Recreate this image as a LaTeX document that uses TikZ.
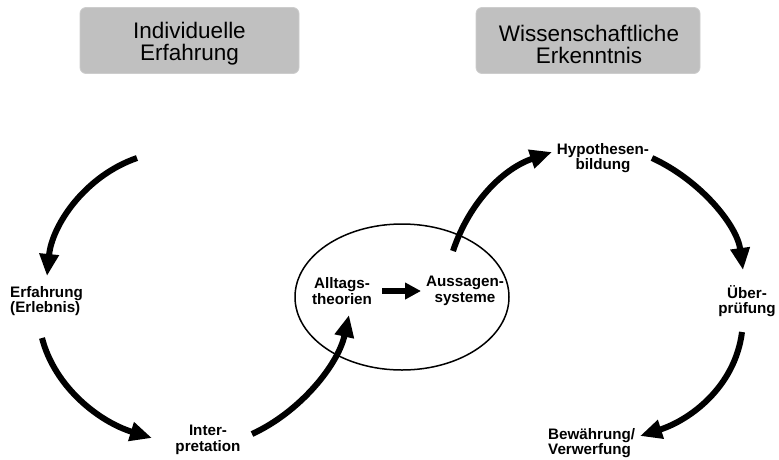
\documentclass[tikz,border=0pt]{standalone}
\usepackage{fontspec}
\setmainfont{Liberation Sans}
\usetikzlibrary{arrows.meta,shapes.geometric}
\definecolor{boxgray}{HTML}{C0C0C0}
\tikzset{
  hdrbox/.style={draw=boxgray!80!white, line width=0.8pt, fill=boxgray, rounded corners=6pt, inner sep=0pt},
  hdr/.style={align=center, font=\fontsize{22.5}{22}\selectfont, inner sep=0pt},
  lbl/.style={font=\bfseries\fontsize{15.2}{15.5}\selectfont, inner sep=0pt},
  bigarrow/.style={line width=6pt, -{Triangle[length=22pt, width=18.5pt]}},
  smallarrow/.style={line width=6.5pt, -{Triangle[length=16pt, width=16pt]}},
}
\begin{document}
\begin{tikzpicture}[x=1pt, y=-1pt]
\useasboundingbox (0,0) rectangle (779,459);
% headers
\node[hdrbox, minimum width=219pt, minimum height=66pt] (b1) at (189.5,40.5) {};
\node[hdrbox, minimum width=224pt, minimum height=66pt] (b2) at (588,40.5) {};
\node[hdr] (h1) at (189.5,44) {Individuelle\\Erfahrung};
\node[hdr] (h2) at (589,44) {Wissenschaftliche\\Erkenntnis};
% ellipse
\node[draw, line width=1.5pt, ellipse, inner sep=0pt, minimum width=214pt, minimum height=146pt] (ell) at (402,297) {};
% labels
\node[lbl, align=left, anchor=west] (erf) at (10,301) {Erfahrung\\(Erlebnis)};
\node[lbl, align=center] (int) at (208,440) {Inter-\\pretation};
\node[lbl, align=center] (all) at (342,291) {Alltags-\\theorien};
\node[lbl, align=center] (aus) at (465,291) {Aussagen-\\systeme};
\node[lbl, align=center] (hyp) at (603,158) {Hypothesen-\\bildung};
\node[lbl, align=center] (ueb) at (747,301) {Über-\\prüfung};
\node[lbl, align=left, anchor=west] (bew) at (548,443) {Bewährung/\\Verwerfung};
% arrow end points
\coordinate (a1s) at (137,158);
\coordinate (a1e) at (47,276);
\coordinate (a2s) at (42,338);
\coordinate (a2e) at (152,438);
\coordinate (a3s) at (252,434);
\coordinate (a3e) at (349,315);
\coordinate (a4s) at (453,251);
\coordinate (a4e) at (552,152);
\coordinate (a5s) at (652,158);
\coordinate (a5e) at (743,270);
\coordinate (a6s) at (742,332);
\coordinate (a6e) at (640,436);
\coordinate (sas) at (382,291);
\coordinate (sae) at (421,291);
% arrows
\draw[bigarrow] (a1s) .. controls (85,176) and (52,225) .. (a1e);
\draw[bigarrow] (a2s) .. controls (55,388) and (100,422) .. (a2e);
\draw[bigarrow] (a3s) .. controls (300,412) and (338,365) .. (a3e);
\draw[bigarrow] (a4s) .. controls (470,200) and (505,168) .. (a4e);
\draw[bigarrow] (a5s) .. controls (700,180) and (737,225) .. (a5e);
\draw[bigarrow] (a6s) .. controls (735,387) and (690,420) .. (a6e);
\draw[smallarrow] (sas) -- (sae);
\end{tikzpicture}
\end{document}
